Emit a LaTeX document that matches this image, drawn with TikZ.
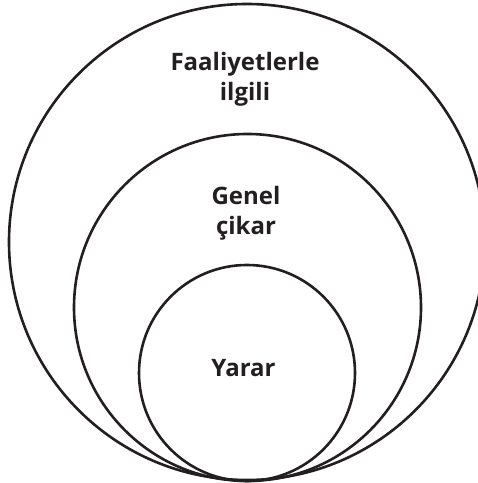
\documentclass[tikz,border=0pt]{standalone}
\usepackage{fontspec}
\setmainfont{Open Sans}
\definecolor{ink}{HTML}{231F20}
\begin{document}
\begin{tikzpicture}[x=1pt,y=1pt,
  ring/.style={draw=ink,line width=2.6pt},
  lbl/.style={text=ink,font=\fontsize{24}{30}\selectfont\bfseries,align=center,inner sep=0pt}]
\useasboundingbox (0,0) rectangle (478,483);
\path[ring] (247,241) circle[radius=238] coordinate (outer);
\path[ring] (247.5,175.5) circle[radius=173.5] coordinate (middle);
\path[ring] (247,110) circle[radius=108] coordinate (inner);
\node[lbl] (t1) at (245,404) {Faaliyetlerle\\ilgili};
\node[lbl] (t2) at (246,270) {Genel\\çikar};
\node[lbl] (t3) at (243.5,115) {Yarar};
\end{tikzpicture}
\end{document}
